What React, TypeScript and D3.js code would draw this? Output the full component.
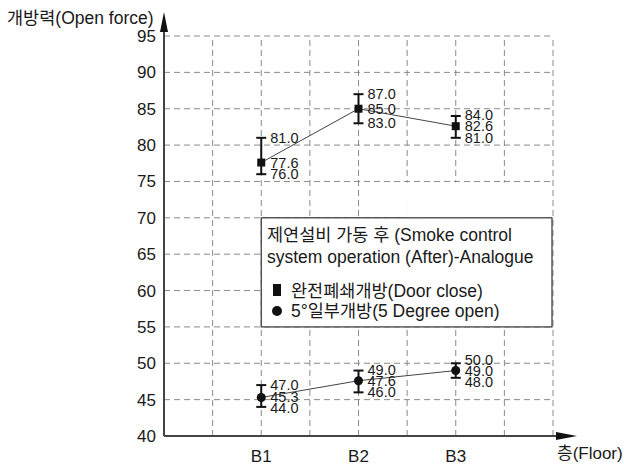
import React from "react";
import * as d3 from "d3";

const floors = ["B1", "B2", "B3"];
const floorPos = [2, 4, 6];
const closeMean = [77.6, 85.0, 82.6];
const closeMax = [81.0, 87.0, 84.0];
const closeMin = [76.0, 83.0, 81.0];
const openMean = [45.3, 47.6, 49.0];
const openMax = [47.0, 49.0, 50.0];
const openMin = [44.0, 46.0, 48.0];
const yTicks = [40, 45, 50, 55, 60, 65, 70, 75, 80, 85, 90, 95];
const xGrid = [1, 2, 3, 4, 5, 6, 7, 8];

const FONT = "'Liberation Sans', Arial, 'Noto Sans CJK KR', sans-serif";
const KFONT = "'Liberation Sans', Arial, 'Noto Sans CJK KR', sans-serif";

export default function App() {
  const x = d3.scaleLinear().domain([0, 8]).range([164, 553]);
  const y = d3.scaleLinear().domain([40, 95]).range([436, 36]);
  const line = d3
    .line<[number, number]>()
    .x((d) => x(d[0]))
    .y((d) => y(d[1]));

  const series = [
    { mean: closeMean, max: closeMax, min: closeMin, shape: "square" },
    { mean: openMean, max: openMax, min: openMin, shape: "circle" },
  ];
  const txt = "#1a1a1a";
  const grid = "#8a8a8a";

  return (
    <svg
      width={624}
      height={465}
      style={{ position: "absolute", left: 0, top: 0, background: "#fff" }}
    >
      <rect x={0} y={0} width={624} height={465} fill="#fff" />
      {/* grid */}
      {yTicks
        .filter((t) => t > 40)
        .map((t) => (
          <line
            key={"h" + t}
            x1={x(0)}
            x2={x(8)}
            y1={y(t)}
            y2={y(t)}
            stroke={grid}
            strokeWidth={1}
            strokeDasharray="6,4"
          />
        ))}
      {xGrid.map((g) => (
        <line
          key={"v" + g}
          x1={x(g)}
          x2={x(g)}
          y1={y(40)}
          y2={y(95)}
          stroke={grid}
          strokeWidth={1}
          strokeDasharray="6,4"
        />
      ))}
      {/* blank patch */}
      <rect
        x={x(5) - 1}
        y={y(75) + 1}
        width={x(8) - x(5)}
        height={y(70) - y(75) - 1}
        fill="#fff"
      />
      {/* legend box */}
      <rect
        x={x(2)}
        y={y(70)}
        width={x(8) - x(2) - 1}
        height={y(55) - y(70)}
        fill="#fff"
        stroke="#333"
        strokeWidth={1.2}
      />
      <text x={267} y={241} fontSize={17.5} fill={txt} fontFamily={KFONT}>
        제연설비 가동 후 (Smoke control
      </text>
      <text x={267} y={263} fontSize={17.5} fill={txt} fontFamily={KFONT}>
        system operation (After)-Analogue
      </text>
      <rect x={273} y={284} width={8} height={12} fill="#111" />
      <text x={291} y={297} fontSize={17.5} fill={txt} fontFamily={KFONT}>
        완전폐쇄개방(Door close)
      </text>
      <circle cx={277} cy={311} r={5} fill="#111" />
      <text x={291} y={317} fontSize={17.5} fill={txt} fontFamily={KFONT}>
        5°일부개방(5 Degree open)
      </text>

      {/* axes */}
      <line x1={x(0)} x2={x(0)} y1={y(40)} y2={28} stroke="#444" strokeWidth={2} />
      <polygon points={`${x(0) - 4},32 ${x(0)},12 ${x(0) + 4},32`} fill="#111" />
      <line x1={x(0)} x2={560} y1={y(40)} y2={y(40)} stroke="#444" strokeWidth={2} />
      <polygon
        points={`556,${y(40) - 4} 577,${y(40)} 556,${y(40) + 4}`}
        fill="#111"
      />
      {yTicks.map((t) => (
        <text
          key={"yt" + t}
          x={156}
          y={y(t) + 6}
          textAnchor="end"
          fontSize={17}
          fill={txt}
          fontFamily={FONT}
        >
          {t}
        </text>
      ))}
      {floors.map((f, i) => (
        <text
          key={f}
          x={x(floorPos[i])}
          y={462}
          textAnchor="middle"
          fontSize={17}
          fill={txt}
          fontFamily={FONT}
        >
          {f}
        </text>
      ))}
      <text x={557} y={459} fontSize={17} fill={txt} fontFamily={KFONT}>
        층(Floor)
      </text>
      <text x={7} y={24} fontSize={17.5} fill={txt} fontFamily={KFONT}>
        개방력(Open force)
      </text>

      {/* data */}
      {series.map((s, si) => {
        const pts = floorPos.map((p, i) => [p, s.mean[i]] as [number, number]);
        return (
          <g key={"s" + si}>
            <path d={line(pts) || ""} fill="none" stroke="#444" strokeWidth={1} />
            {floorPos.map((p, i) => {
              const cx = x(p);
              const ym = y(s.mean[i]);
              const yh = y(s.max[i]);
              const yl = y(s.min[i]);
              const topL = Math.min(yh, ym - 11);
              const botL = Math.max(yl, ym + 11);
              return (
                <g key={i}>
                  <line x1={cx} x2={cx} y1={yh} y2={yl} stroke="#111" strokeWidth={2} />
                  <line x1={cx - 5} x2={cx + 5} y1={yh} y2={yh} stroke="#111" strokeWidth={2} />
                  <line x1={cx - 5} x2={cx + 5} y1={yl} y2={yl} stroke="#111" strokeWidth={2} />
                  {s.shape === "square" ? (
                    <rect x={cx - 4} y={ym - 4} width={8} height={8} fill="#111" />
                  ) : (
                    <circle cx={cx} cy={ym} r={4.5} fill="#111" />
                  )}
                  {[
                    [s.max[i], topL],
                    [s.mean[i], ym],
                    [s.min[i], botL],
                  ].map(([v, ly], k) => (
                    <text
                      key={k}
                      x={cx + 9}
                      y={ly + 5}
                      fontSize={14.5}
                      fill={txt}
                      fontFamily={FONT}
                    >
                      {v.toFixed(1)}
                    </text>
                  ))}
                </g>
              );
            })}
          </g>
        );
      })}
    </svg>
  );
}
